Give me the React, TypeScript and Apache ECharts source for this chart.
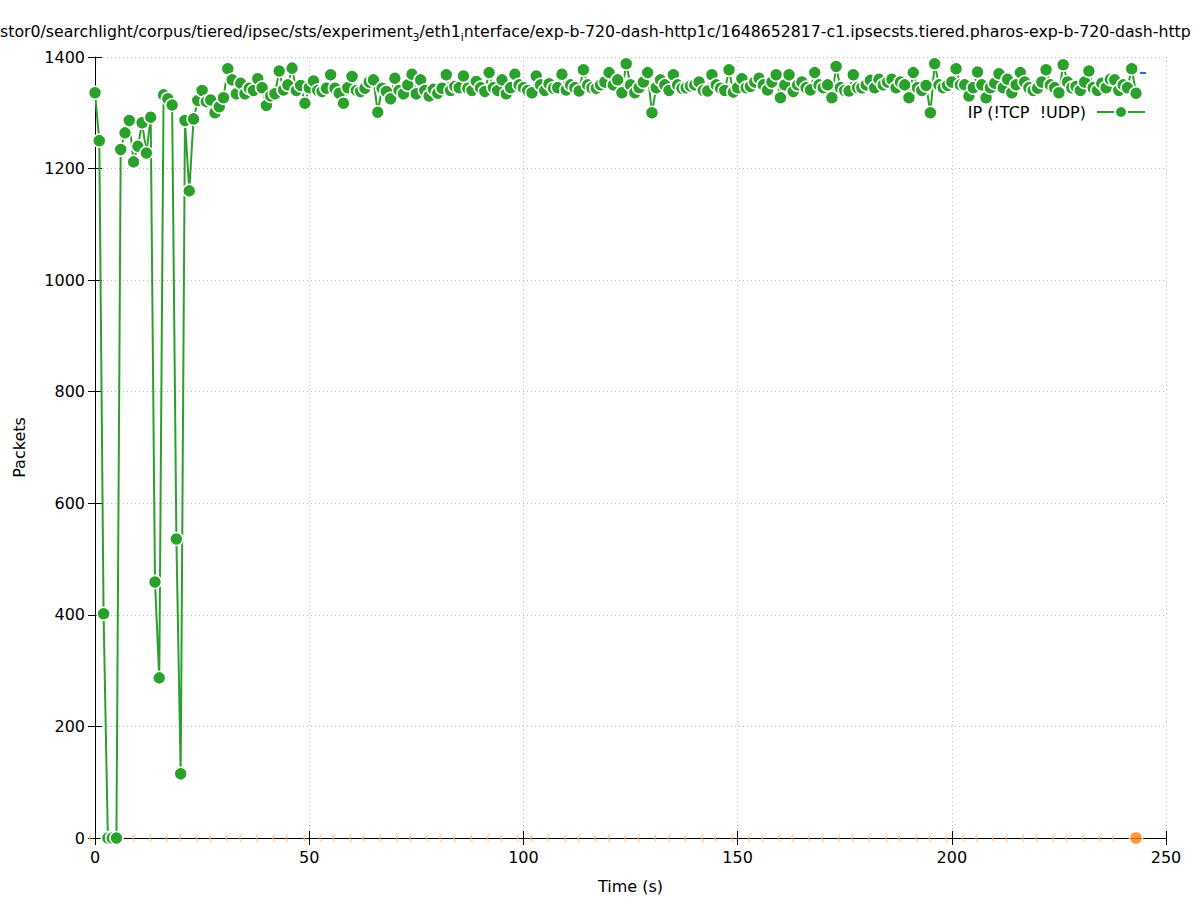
import React, { useEffect, useRef } from 'react';
import * as echarts from 'echarts';

// Title fragments (gnuplot enhanced text: "_x" renders x as a subscript)
const TITLE_MAIN_1 = 'stor0/searchlight/corpus/tiered/ipsec/sts/experiment';
const TITLE_SUB_1 = '3';
const TITLE_MAIN_2 = '/eth1';
const TITLE_SUB_2 = 'i';
const TITLE_MAIN_3 = 'nterface/exp-b-720-dash-http1c/1648652817-c1.ipsecsts.tiered.pharos-exp-b-720-dash-http';

const X_NAME = 'Time (s)';
const Y_NAME = 'Packets';
const SERIES_NAME = 'IP (!TCP  !UDP)';

const X_MIN = 0;
const X_MAX = 250;
const X_STEP = 50;
const Y_MIN = 0;
const Y_MAX = 1400;
const Y_STEP = 200;

// IP (!TCP !UDP) packets per second, one sample per second starting at t = 0
const packetsIP = [
  1336, 1250, 402, 0, 0, 0, 1234, 1264, 1286, 1212,
  1240, 1282, 1228, 1292, 459, 287, 1332, 1325, 1314, 536,
  115, 1286, 1160, 1289, 1322, 1340, 1320, 1323, 1300, 1311,
  1327, 1379, 1359, 1334, 1353, 1334, 1344, 1340, 1361, 1345,
  1313, 1330, 1334, 1375, 1341, 1350, 1380, 1340, 1349, 1317,
  1345, 1357, 1340, 1338, 1344, 1368, 1344, 1335, 1317, 1345,
  1365, 1340, 1338, 1344, 1355, 1359, 1301, 1344, 1338, 1325,
  1362, 1340, 1334, 1350, 1369, 1334, 1359, 1340, 1330, 1342,
  1335, 1344, 1368, 1340, 1347, 1345, 1366, 1344, 1340, 1356,
  1345, 1338, 1372, 1345, 1340, 1359, 1334, 1345, 1369, 1350,
  1345, 1340, 1336, 1366, 1350, 1340, 1352, 1344, 1345, 1369,
  1341, 1350, 1345, 1339, 1377, 1350, 1345, 1344, 1350, 1355,
  1372, 1350, 1359, 1336, 1388, 1350, 1336, 1345, 1355, 1372,
  1300, 1345, 1359, 1350, 1340, 1368, 1350, 1344, 1345, 1348,
  1350, 1355, 1340, 1339, 1368, 1350, 1344, 1340, 1377, 1337,
  1345, 1361, 1345, 1347, 1355, 1362, 1350, 1341, 1355, 1368,
  1327, 1350, 1368, 1338, 1350, 1355, 1345, 1341, 1372, 1350,
  1345, 1350, 1327, 1383, 1345, 1340, 1339, 1368, 1345, 1345,
  1350, 1358, 1345, 1360, 1350, 1355, 1360, 1345, 1355, 1350,
  1327, 1372, 1345, 1340, 1349, 1300, 1388, 1350, 1345, 1349,
  1355, 1379, 1350, 1350, 1330, 1345, 1373, 1350, 1327, 1345,
  1353, 1370, 1345, 1360, 1336, 1350, 1372, 1355, 1345, 1340,
  1344, 1355, 1377, 1350, 1345, 1336, 1386, 1355, 1345, 1347,
  1340, 1355, 1375, 1345, 1340, 1353, 1345, 1360, 1359, 1340,
  1350, 1345, 1379, 1335,
];

// second series: only slivers of its zero-valued markers remain visible along the x axis
const orangeMarkTimes = [
  -1.05, 5.79, 9.06, 12.96, 16.83, 19.96, 23.83, 26.97, 30.84, 33.97,
  37.85, 41.75, 44.85, 48.98, 52.65, 55.76, 59.65, 62.76, 66.66, 70.54,
  73.66, 77.54, 80.67, 84.01, 87.91, 91.78, 94.91, 98.79, 101.91, 105.79,
  109.85, 112.96, 116.86, 119.96, 123.86, 126.97, 130.87, 133.97, 137.87, 141.84,
  144.95, 148.84, 152.72, 155.85, 159.72, 162.85, 166.73, 169.86, 173.73, 176.86,
  180.74, 184.8, 187.91, 191.81, 194.91, 198.81, 202.68, 205.81, 209.69, 212.82,
  216.69, 219.82, 223.7, 226.83, 230.7, 234.6, 237.71,
];
const orangeMarkValue = 0;
const orangeLastTime = 243;
const orangeLastValue = 0;

const FONT = 'DejaVu Sans';
const GREEN = '#2ca02c';
const ORANGE = '#ff7f0e';
const BLUE = '#1f77b4';

export default function App() {
  const ref = useRef<HTMLDivElement>(null);

  useEffect(() => {
    if (!ref.current) return;
    const chart = echarts.init(ref.current, null, { renderer: 'svg' });

    const greenData = packetsIP.map((v, i) => [i, v]);
    const orangeMarks = orangeMarkTimes.map((t) => [t, orangeMarkValue]);

    const gridLine = { show: true, lineStyle: { color: '#b8b8b8', width: 1, type: [1, 3] as any } };
    const tickStyle = { show: true, inside: true, length: 7, lineStyle: { color: '#000', width: 1 } };
    const plainNumber = (v: number) => String(v);

    const option: any = {
      animation: false,
      backgroundColor: '#ffffff',
      title: {
        left: 0,
        top: 19,
        padding: 0,
        text:
          `{a|${TITLE_MAIN_1}}{s|${TITLE_SUB_1}}{a|${TITLE_MAIN_2}}{s|${TITLE_SUB_2}}{a|${TITLE_MAIN_3}}`,
        textStyle: {
          fontWeight: 'normal',
          fontFamily: FONT,
          fontSize: 15.75,
          rich: {
            a: { fontFamily: FONT, fontSize: 15.75, fontWeight: 'normal', color: '#000', lineHeight: 20, verticalAlign: 'bottom' },
            s: { fontFamily: FONT, fontSize: 11, fontWeight: 'normal', color: '#000', lineHeight: 12, verticalAlign: 'bottom', padding: [0, 0, -4, 0] },
          },
        },
      },
      legend: {
        data: [SERIES_NAME],
        right: 51,
        top: 104,
        padding: 0,
        align: 'right',
        itemWidth: 48,
        itemHeight: 15,
        textStyle: { fontFamily: FONT, fontSize: 16, color: '#000', padding: [0, 6, 0, 0] },
      },
      graphic: [
        {
          type: 'line',
          z: 0,
          shape: { x1: 1140, y1: 73, x2: 1146, y2: 73 },
          style: { stroke: BLUE, lineWidth: 2 },
        },
      ],
      grid: { left: 95, right: 31, top: 57, bottom: 62, containLabel: false },
      xAxis: [
        {
          type: 'value',
          position: 'bottom',
          min: X_MIN,
          max: X_MAX,
          interval: X_STEP,
          name: X_NAME,
          nameLocation: 'middle',
          nameGap: 40,
          nameTextStyle: { fontFamily: FONT, fontSize: 16, color: '#000' },
          axisLine: { show: true, onZero: false, lineStyle: { color: '#000', width: 1 } },
          axisTick: tickStyle,
          axisLabel: { fontFamily: FONT, fontSize: 16, color: '#000', margin: 11, formatter: plainNumber },
          splitLine: gridLine,
        },
        {
          type: 'value',
          position: 'top',
          min: X_MIN,
          max: X_MAX,
          interval: X_STEP,
          axisLine: { show: false },
          axisTick: tickStyle,
          axisLabel: { show: false },
          splitLine: { show: false },
        },
      ],
      yAxis: [
        {
          type: 'value',
          position: 'left',
          min: Y_MIN,
          max: Y_MAX,
          interval: Y_STEP,
          name: Y_NAME,
          nameLocation: 'middle',
          nameGap: 68,
          nameRotate: 90,
          nameTextStyle: { fontFamily: FONT, fontSize: 16, color: '#000' },
          axisLine: { show: true, onZero: false, lineStyle: { color: '#000', width: 1 } },
          axisTick: tickStyle,
          axisLabel: { fontFamily: FONT, fontSize: 16, color: '#000', margin: 10, formatter: plainNumber },
          splitLine: gridLine,
        },
        {
          type: 'value',
          position: 'right',
          min: Y_MIN,
          max: Y_MAX,
          interval: Y_STEP,
          axisLine: { show: false },
          axisTick: tickStyle,
          axisLabel: { show: false },
          splitLine: { show: false },
        },
      ],
      series: [
        {
          name: 'orange-marks',
          type: 'scatter',
          clip: false,
          silent: true,
          symbol: 'path://M10,0 C2,6 2,14 10,20 C6,14 6,6 10,0 Z',
          symbolSize: [3, 10],
          itemStyle: { color: '#ffb470' },
          data: orangeMarks,
          z: 3,
        },
        {
          name: 'orange-last',
          type: 'scatter',
          clip: false,
          symbol: 'circle',
          symbolSize: 13,
          itemStyle: { color: ORANGE, borderColor: '#fff', borderWidth: 1.5 },
          data: [[orangeLastTime, orangeLastValue]],
          z: 3,
        },
        {
          name: SERIES_NAME,
          type: 'line',
          data: greenData,
          showAllSymbol: true,
          symbol: 'circle',
          symbolSize: 13,
          lineStyle: { color: GREEN, width: 2 },
          itemStyle: { color: GREEN, borderColor: '#fff', borderWidth: 1.5 },
          emphasis: { disabled: true },
          z: 4,
        },
      ],
    };

    chart.setOption(option);
    return () => chart.dispose();
  }, []);

  return (
    <div
      ref={ref}
      style={{ position: 'fixed', left: 0, top: 0, width: 1197, height: 900, background: '#fff' }}
    />
  );
}
